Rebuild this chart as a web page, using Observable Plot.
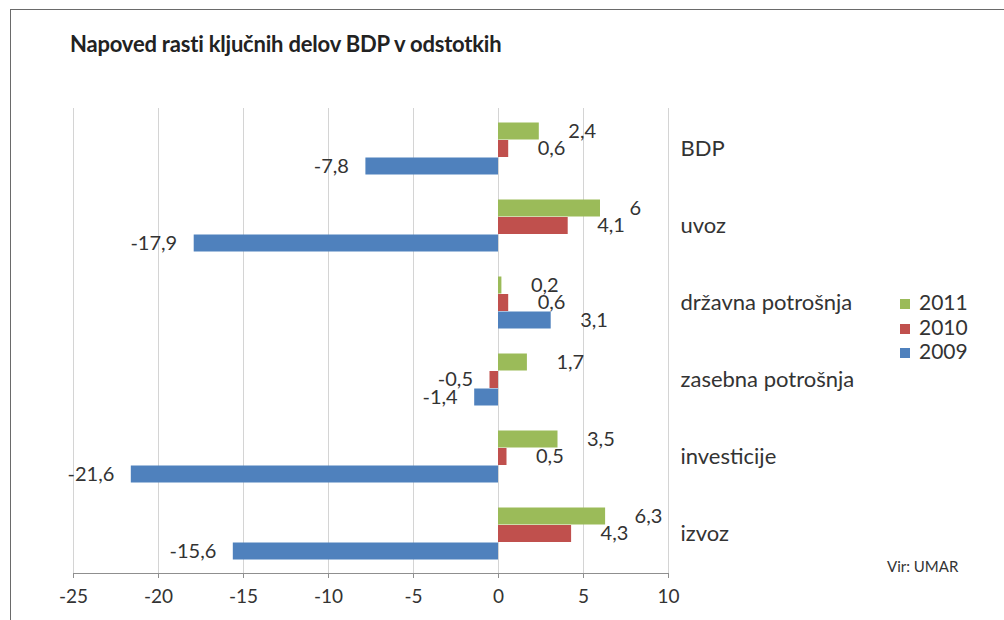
<!DOCTYPE html>
<html>
<head>
<meta charset="utf-8">
<script src="https://cdn.jsdelivr.net/npm/d3@7"></script>
<script src="https://cdn.jsdelivr.net/npm/@observablehq/plot@0.6"></script>
<style>
  html, body { margin: 0; padding: 0; background: #fff; }
  body { width: 1004px; height: 620px; position: relative; overflow: hidden; font-family: Lato, "Open Sans", sans-serif; }
  #frame { position: absolute; left: 10px; top: 9px; width: 1100px; height: 700px; border-top: 1.5px solid #6a6a6a; border-left: 1.5px solid #6a6a6a; }
  #title { position: absolute; left: 70px; top: 30px; font-size: 22px; font-weight: bold; color: #222; letter-spacing: -0.2px; }
  #chart { position: absolute; left: 0; top: 0; }
  #legend { position: absolute; left: 900px; top: 290px; font-size: 21px; color: #333; }
  #legend div { height: 24.5px; line-height: 24px; white-space: nowrap; }
  #legend span.sw { display: inline-block; width: 10px; height: 10px; margin-right: 9px; vertical-align: 1px; }
  #source { position: absolute; left: 887px; top: 557px; font-size: 15px; color: #333; }
</style>
</head>
<body>
<div id="frame"></div>
<div id="chart"></div>
<div id="title">Napoved rasti ključnih delov BDP v odstotkih</div>
<div id="legend"></div>
<div id="source">Vir: UMAR</div>
<script>
const categories = ["BDP", "uvoz", "državna potrošnja", "zasebna potrošnja", "investicije", "izvoz"];
const years = ["2011", "2010", "2009"];
const values2011 = [2.4, 6, 0.2, 1.7, 3.5, 6.3];
const values2010 = [0.6, 4.1, 0.6, -0.5, 0.5, 4.3];
const values2009 = [-7.8, -17.9, 3.1, -1.4, -21.6, -15.6];
const xTicks = [-25, -20, -15, -10, -5, 0, 5, 10];
const colors = {"2011": "#9bbb59", "2010": "#c0504d", "2009": "#4f81bd"};

const series = {"2011": values2011, "2010": values2010, "2009": values2009};
const table = years.flatMap(year => categories.map((cat, i) => ({cat, year, value: series[year][i]})));

const fmt = v => String(v).replace(".", ",");
const band = 77.5, barH = 17.5, outer = (band - 3 * barH) / 2;

const marks = [
  Plot.gridX(xTicks, {stroke: "#d4d4d4", strokeOpacity: 1}),
  Plot.frame({anchor: "bottom", stroke: "#8f8f8f"})
];
years.forEach((year, k) => {
  const rows = table.filter(d => d.year === year);
  marks.push(Plot.barX(rows, {
    x1: 0, x2: "value", y: "cat", fill: colors[year],
    insetTop: outer + k * barH, insetBottom: outer + (2 - k) * barH
  }));
  const dy = (k - 1) * barH;
  marks.push(Plot.text(rows.filter(d => d.value >= 0), {
    x: "value", y: "cat", text: d => fmt(d.value), textAnchor: "start", dx: 29, dy,
    fontSize: 20, fill: "#333"
  }));
  marks.push(Plot.text(rows.filter(d => d.value < 0), {
    x: "value", y: "cat", text: d => fmt(d.value), textAnchor: "end", dx: -17, dy,
    fontSize: 20, fill: "#333"
  }));
});
marks.push(Plot.axisX({ticks: xTicks, tickSize: 5, tickPadding: 11, fontSize: 19, tickFormat: d => String(d), label: null, stroke: "#8f8f8f", color: "#333"}));
marks.push(Plot.axisY({anchor: "right", tickSize: 0, tickPadding: 12, fontSize: 22, label: null, color: "#333"}));

const chart = Plot.plot({
  width: 1004,
  height: 620,
  marginLeft: 73,
  marginRight: 336,
  marginTop: 108,
  marginBottom: 47,
  style: {fontFamily: "Lato, 'Open Sans', sans-serif", background: "transparent", overflow: "visible"},
  x: {domain: [-25, 10]},
  y: {domain: categories, padding: 0},
  marks
});
document.getElementById("chart").appendChild(chart);

const legend = document.getElementById("legend");
years.forEach(year => {
  const row = document.createElement("div");
  const sw = document.createElement("span");
  sw.className = "sw";
  sw.style.background = colors[year];
  row.appendChild(sw);
  row.appendChild(document.createTextNode(year));
  legend.appendChild(row);
});
</script>
</body>
</html>
